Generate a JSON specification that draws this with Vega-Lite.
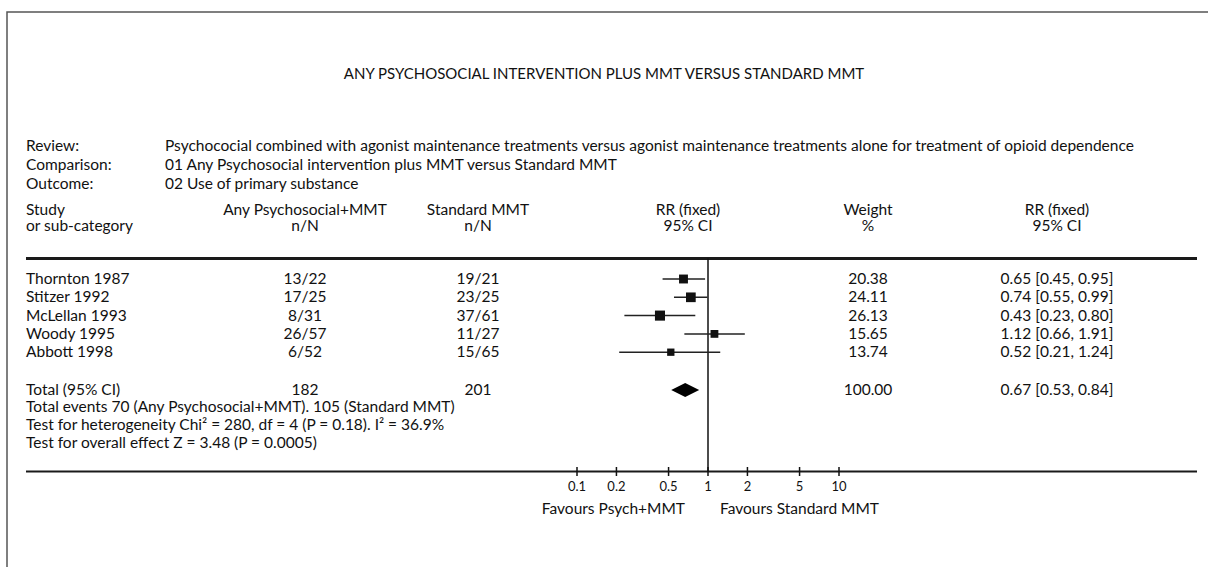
{
  "$schema": "https://vega.github.io/schema/vega-lite/v6.json",
  "width": 1210,
  "height": 560,
  "autosize": "none",
  "padding": {"left": 7, "top": 12, "right": 0, "bottom": 0},
  "config": {
    "view": {"stroke": "#555", "strokeWidth": 1.5},
    "text": {"font": "Lato", "fontSize": 15.5, "color": "#111", "baseline": "middle"}
  },
  "datasets": {
    "cells": [
      {"line": 0, "col": 4, "text": "ANY PSYCHOSOCIAL INTERVENTION PLUS MMT VERSUS STANDARD MMT"},
      {"line": 1, "col": 0, "text": "Review:"},
      {"line": 1, "col": 1, "text": "Psychococial  combined with agonist maintenance treatments versus agonist maintenance treatments alone for treatment of opioid dependence"},
      {"line": 2, "col": 0, "text": "Comparison:"},
      {"line": 2, "col": 1, "text": "01 Any Psychosocial intervention plus MMT versus Standard MMT"},
      {"line": 3, "col": 0, "text": "Outcome:"},
      {"line": 3, "col": 1, "text": "02 Use of primary substance"},
      {"line": 4, "col": 0, "text": "Study"},
      {"line": 4, "col": 2, "text": "Any Psychosocial+MMT"},
      {"line": 4, "col": 3, "text": "Standard MMT"},
      {"line": 4, "col": 5, "text": "RR (fixed)"},
      {"line": 4, "col": 6, "text": "Weight"},
      {"line": 4, "col": 7, "text": "RR (fixed)"},
      {"line": 5, "col": 0, "text": "or sub-category"},
      {"line": 5, "col": 2, "text": "n/N"},
      {"line": 5, "col": 3, "text": "n/N"},
      {"line": 5, "col": 5, "text": "95% CI"},
      {"line": 5, "col": 6, "text": "%"},
      {"line": 5, "col": 7, "text": "95% CI"},
      {"line": 7, "col": 0, "text": "Thornton 1987"},
      {"line": 7, "col": 2, "text": "13/22"},
      {"line": 7, "col": 3, "text": "19/21"},
      {"line": 7, "col": 6, "text": "20.38"},
      {"line": 7, "col": 7, "text": "0.65 [0.45, 0.95]"},
      {"line": 8, "col": 0, "text": "Stitzer 1992"},
      {"line": 8, "col": 2, "text": "17/25"},
      {"line": 8, "col": 3, "text": "23/25"},
      {"line": 8, "col": 6, "text": "24.11"},
      {"line": 8, "col": 7, "text": "0.74 [0.55, 0.99]"},
      {"line": 9, "col": 0, "text": "McLellan 1993"},
      {"line": 9, "col": 2, "text": "8/31"},
      {"line": 9, "col": 3, "text": "37/61"},
      {"line": 9, "col": 6, "text": "26.13"},
      {"line": 9, "col": 7, "text": "0.43 [0.23, 0.80]"},
      {"line": 10, "col": 0, "text": "Woody 1995"},
      {"line": 10, "col": 2, "text": "26/57"},
      {"line": 10, "col": 3, "text": "11/27"},
      {"line": 10, "col": 6, "text": "15.65"},
      {"line": 10, "col": 7, "text": "1.12 [0.66, 1.91]"},
      {"line": 11, "col": 0, "text": "Abbott 1998"},
      {"line": 11, "col": 2, "text": "6/52"},
      {"line": 11, "col": 3, "text": "15/65"},
      {"line": 11, "col": 6, "text": "13.74"},
      {"line": 11, "col": 7, "text": "0.52 [0.21, 1.24]"},
      {"line": 12, "col": 0, "text": "Total (95% CI)"},
      {"line": 12, "col": 2, "text": "182"},
      {"line": 12, "col": 3, "text": "201"},
      {"line": 12, "col": 6, "text": "100.00"},
      {"line": 12, "col": 7, "text": "0.67 [0.53, 0.84]"},
      {"line": 13, "col": 0, "text": "Total events 70 (Any Psychosocial+MMT). 105 (Standard MMT)"},
      {"line": 14, "col": 0, "text": "Test for heterogeneity Chi² = 280, df = 4 (P = 0.18). I² = 36.9%"},
      {"line": 15, "col": 0, "text": "Test for overall effect Z = 3.48 (P = 0.0005)"}
    ],
    "studies": [
      {"line": 7, "study": "Thornton 1987", "rr": 0.65, "lo": 0.45, "hi": 0.95, "w": 20.38},
      {"line": 8, "study": "Stitzer 1992", "rr": 0.74, "lo": 0.55, "hi": 0.99, "w": 24.11},
      {"line": 9, "study": "McLellan 1993", "rr": 0.43, "lo": 0.23, "hi": 0.80, "w": 26.13},
      {"line": 10, "study": "Woody 1995", "rr": 1.12, "lo": 0.66, "hi": 1.91, "w": 15.65},
      {"line": 11, "study": "Abbott 1998", "rr": 0.52, "lo": 0.21, "hi": 1.24, "w": 13.74}
    ],
    "total": [{"line": 12, "rr": 0.67, "lo": 0.53, "hi": 0.84}],
    "ticks": [
      {"rr": 0.1, "label": "0.1"},
      {"rr": 0.2, "label": "0.2"},
      {"rr": 0.5, "label": "0.5"},
      {"rr": 1, "label": "1"},
      {"rr": 2, "label": "2"},
      {"rr": 5, "label": "5"},
      {"rr": 10, "label": "10"}
    ]
  },
  "resolve": {"scale": {"x": "independent"}},
  "layer": [
    {
      "data": {"name": "cells"},
      "transform": [{"filter": "datum.line > 0 && datum.col <= 1"}],
      "mark": {"type": "text", "align": "left"},
      "encoding": {
        "x": {"field": "col", "type": "quantitative", "axis": null, "scale": {"domain": [0,1,2,3,4,5,6,7,8], "range": [19,158,298,471,597,681,861,1050,1190], "nice": false, "zero": false}},
        "y": {"field": "line", "type": "quantitative", "axis": null, "scale": {"domain": [0,1,2,3,4,5,6,7,8,9,10,11,12,13,14,15,16,17,18], "range": [62,134,153,172,198,214,246.5,267,285.3,303.6,321.9,340.2,378,395,413,431,459.5,474.5,497], "nice": false, "zero": false}},
        "text": {"field": "text"}
      }
    },
    {
      "data": {"name": "cells"},
      "transform": [{"filter": "datum.line > 0 && datum.col >= 2"}],
      "mark": {"type": "text", "align": "center"},
      "encoding": {
        "x": {"field": "col", "type": "quantitative", "axis": null, "scale": {"domain": [0,1,2,3,4,5,6,7,8], "range": [19,158,298,471,597,681,861,1050,1190], "nice": false, "zero": false}},
        "y": {"field": "line", "type": "quantitative", "axis": null},
        "text": {"field": "text"}
      }
    },
    {
      "data": {"name": "cells"},
      "transform": [{"filter": "datum.line == 0"}],
      "mark": {"type": "text", "align": "center", "fontSize": 15},
      "encoding": {
        "x": {"field": "col", "type": "quantitative", "axis": null, "scale": {"domain": [0,1,2,3,4,5,6,7,8], "range": [19,158,298,471,597,681,861,1050,1190], "nice": false, "zero": false}},
        "y": {"field": "line", "type": "quantitative", "axis": null},
        "text": {"field": "text"}
      }
    },
    {
      "data": {"values": [{"from": 0, "to": 8, "line": 6}, {"from": 0, "to": 8, "line": 16}]},
      "mark": {"type": "rule", "color": "#1a1a1a"},
      "encoding": {
        "x": {"field": "from", "type": "quantitative", "axis": null, "scale": {"domain": [0,1,2,3,4,5,6,7,8], "range": [19,158,298,471,597,681,861,1050,1190], "nice": false, "zero": false}},
        "x2": {"field": "to"},
        "y": {"field": "line", "type": "quantitative", "axis": null},
        "strokeWidth": {"condition": {"test": "datum.line == 6", "value": 3}, "value": 2}
      }
    },
    {
      "data": {"values": [{"rr": 1, "from": 6, "to": 16}]},
      "mark": {"type": "rule", "color": "#111", "strokeWidth": 1.5},
      "encoding": {
        "x": {"field": "rr", "type": "quantitative", "axis": null, "scale": {"type": "log", "domain": [0.1, 10], "range": [570, 832], "nice": false}},
        "y": {"field": "from", "type": "quantitative", "axis": null},
        "y2": {"field": "to"}
      }
    },
    {
      "data": {"name": "studies"},
      "mark": {"type": "rule", "color": "#222", "strokeWidth": 1.5},
      "encoding": {
        "x": {"field": "lo", "type": "quantitative", "axis": null, "scale": {"type": "log", "domain": [0.1, 10], "range": [570, 832], "nice": false}},
        "x2": {"field": "hi"},
        "y": {"field": "line", "type": "quantitative", "axis": null}
      }
    },
    {
      "data": {"name": "studies"},
      "mark": {"type": "point", "shape": "square", "filled": true, "color": "#111", "opacity": 1},
      "encoding": {
        "x": {"field": "rr", "type": "quantitative", "axis": null, "scale": {"type": "log", "domain": [0.1, 10], "range": [570, 832], "nice": false}},
        "y": {"field": "line", "type": "quantitative", "axis": null},
        "size": {"field": "w", "type": "quantitative", "legend": null, "scale": {"domain": [0, 27], "range": [0, 105]}}
      }
    },
    {
      "data": {"name": "total"},
      "mark": {"type": "point", "shape": "M-1,0L0,-0.5L1,0L0,0.5Z", "filled": true, "color": "#000", "opacity": 1, "size": 784},
      "encoding": {
        "x": {"field": "rr", "type": "quantitative", "axis": null, "scale": {"type": "log", "domain": [0.1, 10], "range": [570, 832], "nice": false}},
        "y": {"field": "line", "type": "quantitative", "axis": null}
      }
    },
    {
      "data": {"name": "ticks"},
      "mark": {"type": "point", "shape": "M0,-1L0,1", "filled": false, "color": "#111", "strokeWidth": 1.5, "opacity": 1, "size": 81},
      "encoding": {
        "x": {"field": "rr", "type": "quantitative", "axis": null, "scale": {"type": "log", "domain": [0.1, 10], "range": [570, 832], "nice": false}},
        "y": {"datum": 16, "type": "quantitative", "axis": null}
      }
    },
    {
      "data": {"name": "ticks"},
      "mark": {"type": "text", "align": "center", "fontSize": 13},
      "encoding": {
        "x": {"field": "rr", "type": "quantitative", "axis": null, "scale": {"type": "log", "domain": [0.1, 10], "range": [570, 832], "nice": false}},
        "y": {"datum": 17, "type": "quantitative", "axis": null},
        "text": {"field": "label"}
      }
    },
    {
      "data": {"values": [{"rr": 1, "line": 18, "text": "Favours Psych+MMT"}]},
      "mark": {"type": "text", "align": "right", "dx": -23},
      "encoding": {
        "x": {"field": "rr", "type": "quantitative", "axis": null, "scale": {"type": "log", "domain": [0.1, 10], "range": [570, 832], "nice": false}},
        "y": {"field": "line", "type": "quantitative", "axis": null},
        "text": {"field": "text"}
      }
    },
    {
      "data": {"values": [{"rr": 1, "line": 18, "text": "Favours Standard MMT"}]},
      "mark": {"type": "text", "align": "left", "dx": 12},
      "encoding": {
        "x": {"field": "rr", "type": "quantitative", "axis": null, "scale": {"type": "log", "domain": [0.1, 10], "range": [570, 832], "nice": false}},
        "y": {"field": "line", "type": "quantitative", "axis": null},
        "text": {"field": "text"}
      }
    }
  ]
}
